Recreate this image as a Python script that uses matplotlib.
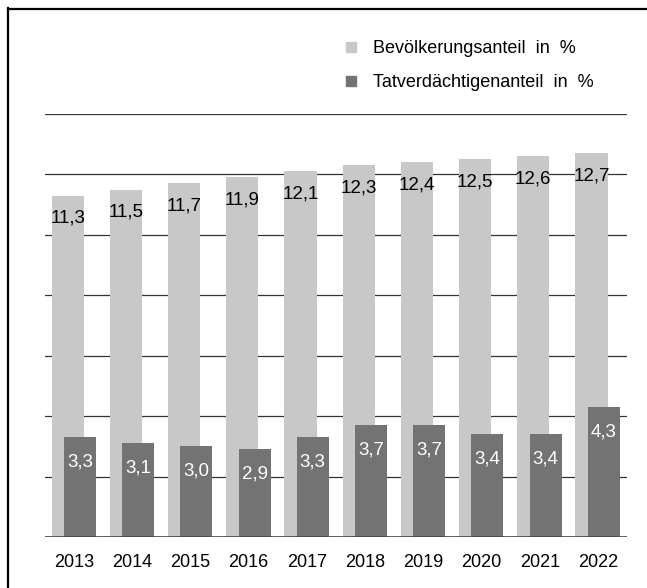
import numpy as np
import matplotlib
matplotlib.use("Agg")
import matplotlib.pyplot as plt
from matplotlib.lines import Line2D

plt.rcParams['font.family'] = ['Liberation Sans', 'DejaVu Sans']

# Data
years = ['2013', '2014', '2015', '2016', '2017', '2018', '2019', '2020', '2021', '2022']
bevoelkerung = [11.3, 11.5, 11.7, 11.9, 12.1, 12.3, 12.4, 12.5, 12.6, 12.7]
tatverdaechtige = [3.3, 3.1, 3.0, 2.9, 3.3, 3.7, 3.7, 3.4, 3.4, 4.3]
legend_labels = ['Bevölkerungsanteil  in  %', 'Tatverdächtigenanteil  in  %']

light = '#c8c8c8'
dark = '#737373'
W, H = 647, 588

fig = plt.figure(figsize=(W / 100, H / 100), dpi=100)
ax = fig.add_axes([45 / W, 51 / H, 582 / W, 423 / H])

x = np.arange(len(years))
width = 0.55
b1 = ax.bar(x - 0.11, bevoelkerung, width, color=light, zorder=2)
b2 = ax.bar(x + 0.10, tatverdaechtige, width, color=dark, zorder=3)

def comma(v):
    return f"{v:.1f}".replace('.', ',')

for rect, v in zip(b1, bevoelkerung):
    ax.annotate(comma(v), (rect.get_x() + rect.get_width() / 2, v),
                xytext=(0, -16.5), textcoords='offset points',
                ha='center', va='center', fontsize=13.5, color='black', zorder=4)
for rect, v in zip(b2, tatverdaechtige):
    ax.annotate(comma(v), (rect.get_x() + rect.get_width() / 2, v),
                xytext=(0, -18), textcoords='offset points',
                ha='center', va='center', fontsize=13.5, color='white', zorder=4)

# horizontal gridlines
for yv in range(2, 15, 2):
    ax.axhline(yv, color='#333333', linewidth=0.9, zorder=1)
ax.axhline(0, color='#444444', linewidth=1.2, zorder=5)

ax.set_xlim(-0.5, len(years) - 0.5)
ax.set_ylim(0, 14)
ax.set_xticks(x)
ax.set_xticklabels(years, fontsize=13)
ax.tick_params(axis='x', length=0, pad=12)
ax.set_yticks([])
for s in ax.spines.values():
    s.set_visible(False)

handles = [Line2D([], [], marker='s', linestyle='none', markersize=7, color=light),
           Line2D([], [], marker='s', linestyle='none', markersize=7, color=dark)]
fig.legend(handles, legend_labels, loc='upper left',
           bbox_to_anchor=(328 / W, 1 - 24 / H), frameon=False,
           fontsize=13, handlelength=0.8, handletextpad=0.8, labelspacing=0.95)

# frame of the picture (right and bottom edges are cut off)
fig.add_artist(Line2D([8 / W, 8 / W], [0, 1 - 8 / H], color='black', linewidth=1.6))
fig.add_artist(Line2D([8 / W, 1.01], [1 - 8.5 / H, 1 - 8.5 / H], color='black', linewidth=1.6))

fig.savefig('out.png', dpi=100)
